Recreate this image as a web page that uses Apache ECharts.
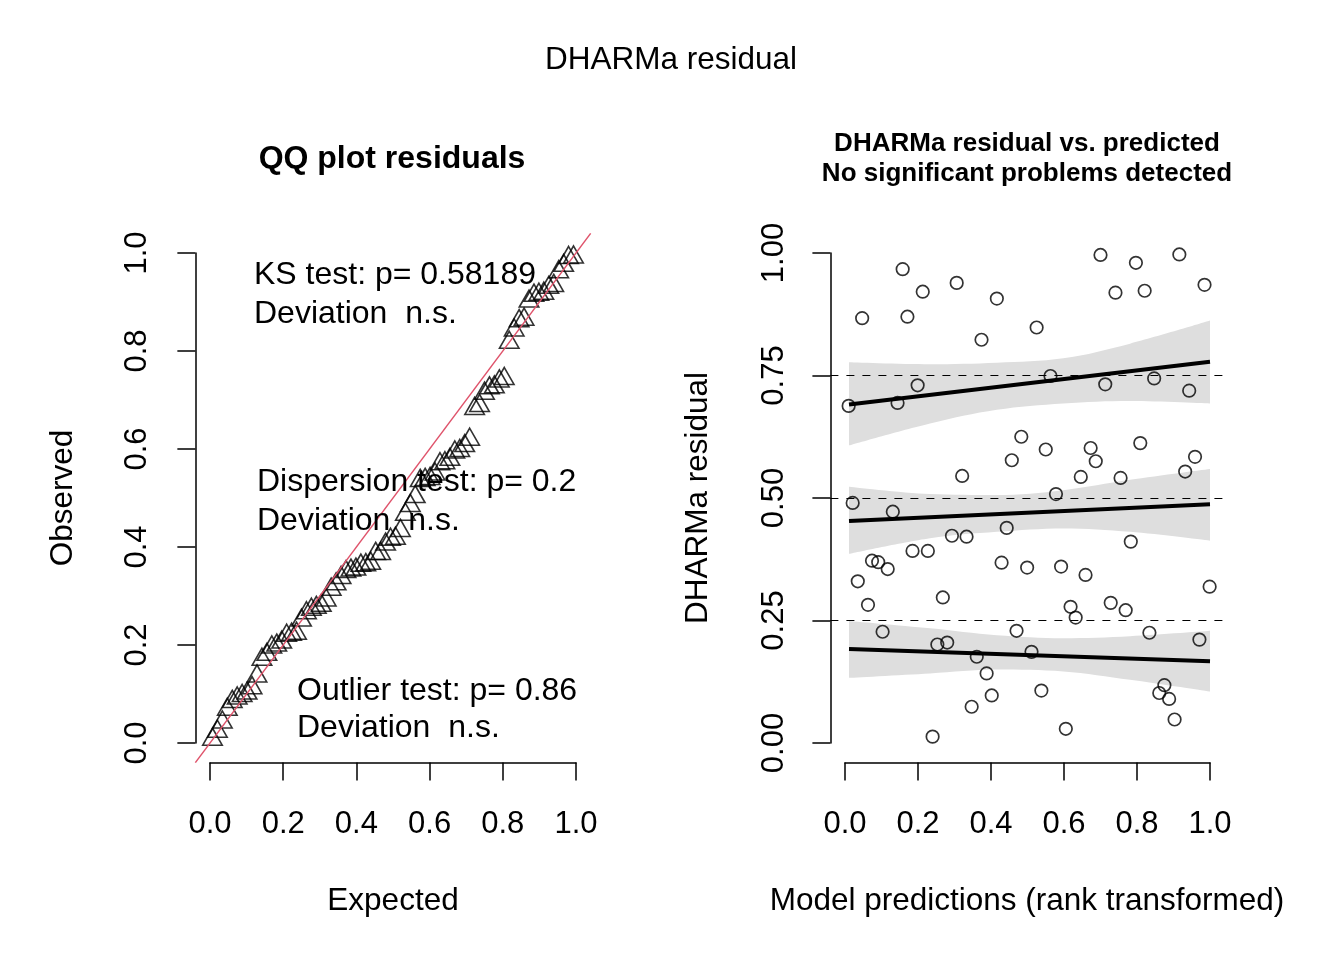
<!DOCTYPE html>
<html>
<head>
<meta charset="utf-8">
<script src="https://cdn.jsdelivr.net/npm/echarts@6/dist/echarts.min.js"></script>
<style>
  html, body { margin: 0; padding: 0; background: #fff; }
  #chart { width: 1344px; height: 960px; }
</style>
</head>
<body>
<div id="chart"></div>
<script>
// DHARMa residual diagnostics: QQ plot (left) + residual vs predicted (right)

// residuals: rank-transformed prediction and scaled residual
const predRank = [
    0.700, 0.797, 0.916, 0.158, 0.213, 0.306, 0.416, 0.741, 0.821, 0.985,
    0.047, 0.171, 0.525, 0.374, 0.563, 0.199, 0.713, 0.847, 0.943, 0.010,
    0.144, 0.483, 0.550, 0.457, 0.673, 0.687, 0.809, 0.959, 0.932, 0.321,
    0.646, 0.755, 0.578, 0.021, 0.131, 0.443, 0.293, 0.333, 0.783, 0.185,
    0.227, 0.074, 0.091, 0.117, 0.429, 0.499, 0.592, 0.659, 0.035, 0.999,
    0.063, 0.268, 0.618, 0.632, 0.728, 0.769, 0.103, 0.470, 0.834, 0.971,
    0.253, 0.280, 0.511, 0.361, 0.388, 0.875, 0.861, 0.888, 0.538, 0.402,
    0.347, 0.903, 0.605, 0.240
];
const residual = [
    0.996, 0.980, 0.997, 0.967, 0.921, 0.939, 0.907, 0.919, 0.923, 0.935,
    0.867, 0.870, 0.848, 0.823, 0.749, 0.730, 0.732, 0.744, 0.719, 0.688,
    0.694, 0.625, 0.599, 0.577, 0.602, 0.575, 0.612, 0.584, 0.554, 0.545,
    0.543, 0.541, 0.508, 0.490, 0.472, 0.439, 0.423, 0.421, 0.411, 0.392,
    0.392, 0.372, 0.369, 0.355, 0.368, 0.358, 0.360, 0.343, 0.330, 0.319,
    0.282, 0.297, 0.278, 0.256, 0.286, 0.271, 0.227, 0.229, 0.225, 0.211,
    0.201, 0.205, 0.186, 0.176, 0.142, 0.118, 0.102, 0.090, 0.107, 0.097,
    0.074, 0.048, 0.029, 0.013
];

// quantile regression lines (ends) and their confidence bands
const qLineX = [0.011, 1.0];
const q25Line = [0.192, 0.167];
const q50Line = [0.453, 0.487];
const q75Line = [0.691, 0.778];

const bandX = [0.011, 0.233, 0.416, 0.598, 0.781, 1.0];
const band25Lo = [0.133, 0.142, 0.150, 0.146, 0.129, 0.105];
const band25Hi = [0.249, 0.234, 0.220, 0.214, 0.218, 0.229];
const band50Lo = [0.386, 0.418, 0.431, 0.438, 0.431, 0.413];
const band50Hi = [0.523, 0.508, 0.506, 0.516, 0.537, 0.559];
const band75Lo = [0.607, 0.652, 0.680, 0.693, 0.698, 0.693];
const band75Hi = [0.777, 0.773, 0.776, 0.785, 0.815, 0.862];

const quantileRefs = [0.25, 0.5, 0.75];
const plotLim = [-0.04, 1.04];

const FONT = "'Liberation Sans', Arial, Helvetica, sans-serif";
const BAND = "#dedede";

// QQ: sorted residuals against uniform expected quantiles
const n = residual.length;
const qqData = residual
    .slice()
    .sort((a, b) => a - b)
    .map((v, i) => [(i + 0.5) / n, v]);

function axisStyle(gridIndex, extra) {
    return Object.assign(
        {
            gridIndex,
            type: "value",
            min: 0,
            max: 1,
            z: 10,
            axisLine: { show: true, onZero: false, lineStyle: { color: "#000", width: 1.5 } },
            axisTick: { show: true, length: 18, lineStyle: { color: "#000", width: 1.5 } },
            splitLine: { show: false },
        },
        extra
    );
}

function tickLabels(margin, digits, rotate) {
    return {
        color: "#000",
        fontSize: 31,
        fontFamily: FONT,
        margin,
        rotate: rotate || 0,
        formatter: (v) => v.toFixed(digits),
    };
}

function hiddenAxis(gridIndex) {
    return { gridIndex, type: "value", min: plotLim[0], max: plotLim[1], show: false };
}

// band = grey fill under the upper edge, then white fill under the lower edge
function bandEdge(vals, fill) {
    return {
        type: "line",
        xAxisIndex: 2,
        yAxisIndex: 2,
        smooth: 0.35,
        symbol: "none",
        silent: true,
        z: 1,
        lineStyle: { opacity: 0 },
        areaStyle: { color: fill, opacity: 1, origin: "start" },
        data: bandX.map((x, i) => [x, vals[i]]),
    };
}

function qLine(vals) {
    return {
        type: "line",
        xAxisIndex: 2,
        yAxisIndex: 2,
        symbol: "none",
        silent: true,
        z: 5,
        lineStyle: { color: "#000", width: 4 },
        data: qLineX.map((x, i) => [x, vals[i]]),
    };
}

function txt(text, x, y, opts = {}) {
    return {
        type: "text",
        x,
        y,
        rotation: opts.rotation || 0,
        z: 100,
        style: {
            text,
            fill: "#000",
            font: `${opts.weight || "normal"} ${opts.size || 31.5}px ${FONT}`,
            align: opts.align || "center",
            verticalAlign: "middle",
        },
    };
}

const chart = echarts.init(document.getElementById("chart"), null, { renderer: "canvas" });

chart.setOption({
    backgroundColor: "#fff",
    animation: false,
    textStyle: { fontFamily: FONT },
    grid: [
        { left: 195.36, top: 233.4, width: 395.28, height: 529.2 },
        { left: 210, top: 253, width: 366, height: 490 },
        { left: 830.4, top: 233.4, width: 394.2, height: 529.2 },
        { left: 845, top: 253, width: 365, height: 490 },
    ],
    xAxis: [
        hiddenAxis(0),
        axisStyle(1, { interval: 0.2, offset: 19.6, axisLabel: tickLabels(46, 1) }),
        hiddenAxis(2),
        axisStyle(3, { interval: 0.2, offset: 19.6, axisLabel: tickLabels(46, 1) }),
    ],
    yAxis: [
        hiddenAxis(0),
        axisStyle(1, { interval: 0.2, offset: 14.64, axisLabel: tickLabels(42, 1, 90) }),
        hiddenAxis(2),
        axisStyle(3, { interval: 0.25, offset: 14.6, axisLabel: tickLabels(40, 2, 90) }),
    ],
    graphic: [
        txt("DHARMa residual", 671, 60),
        txt("QQ plot residuals", 392, 159, { size: 32, weight: "bold" }),
        txt("DHARMa residual vs. predicted", 1027, 144, { size: 26, weight: "bold" }),
        txt("No significant problems detected", 1027, 174, { size: 26, weight: "bold" }),
        txt("KS test: p= 0.58189", 254, 275, { size: 32, align: "left" }),
        txt("Deviation  n.s.", 254, 314, { size: 32, align: "left" }),
        txt("Dispersion test: p= 0.2", 257, 482, { size: 32, align: "left" }),
        txt("Deviation  n.s.", 257, 521, { size: 32, align: "left" }),
        txt("Outlier test: p= 0.86", 297, 691, { size: 32, align: "left" }),
        txt("Deviation  n.s.", 297, 728, { size: 32, align: "left" }),
        txt("Expected", 393, 901),
        txt("Observed", 63, 498, { rotation: Math.PI / 2 }),
        txt("Model predictions (rank transformed)", 1027, 901),
        txt("DHARMa residual", 698, 498, { rotation: Math.PI / 2 }),
    ],
    series: [
        // left: QQ plot
        {
            type: "scatter",
            xAxisIndex: 0,
            yAxisIndex: 0,
            symbol: "triangle",
            symbolSize: [19.5, 17],
            silent: true,
            z: 3,
            itemStyle: { color: "rgba(0,0,0,0)", borderColor: "#000", borderWidth: 1.6 },
            data: qqData,
        },
        {
            type: "line",
            xAxisIndex: 0,
            yAxisIndex: 0,
            symbol: "none",
            silent: true,
            z: 4,
            lineStyle: { color: "#df536b", width: 1.5 },
            data: plotLim.map((v) => [v, v]),
        },
        // right: bands (top to bottom), reference lines, points, quantile fits
        bandEdge(band75Hi, BAND),
        bandEdge(band75Lo, "#fff"),
        bandEdge(band50Hi, BAND),
        bandEdge(band50Lo, "#fff"),
        bandEdge(band25Hi, BAND),
        bandEdge(band25Lo, "#fff"),
        {
            type: "line",
            xAxisIndex: 2,
            yAxisIndex: 2,
            data: [],
            z: 2,
            markLine: {
                silent: true,
                symbol: "none",
                label: { show: false },
                lineStyle: { color: "#000", width: 1, type: [8, 8] },
                data: quantileRefs.map((q) => ({ yAxis: q })),
            },
        },
        {
            type: "scatter",
            xAxisIndex: 2,
            yAxisIndex: 2,
            symbol: "circle",
            symbolSize: 12.5,
            silent: true,
            z: 3,
            itemStyle: { color: "rgba(0,0,0,0)", borderColor: "#000", borderWidth: 1.7 },
            data: predRank.map((x, i) => [x, residual[i]]),
        },
        qLine(q25Line),
        qLine(q50Line),
        qLine(q75Line),
    ],
});
</script>
</body>
</html>
